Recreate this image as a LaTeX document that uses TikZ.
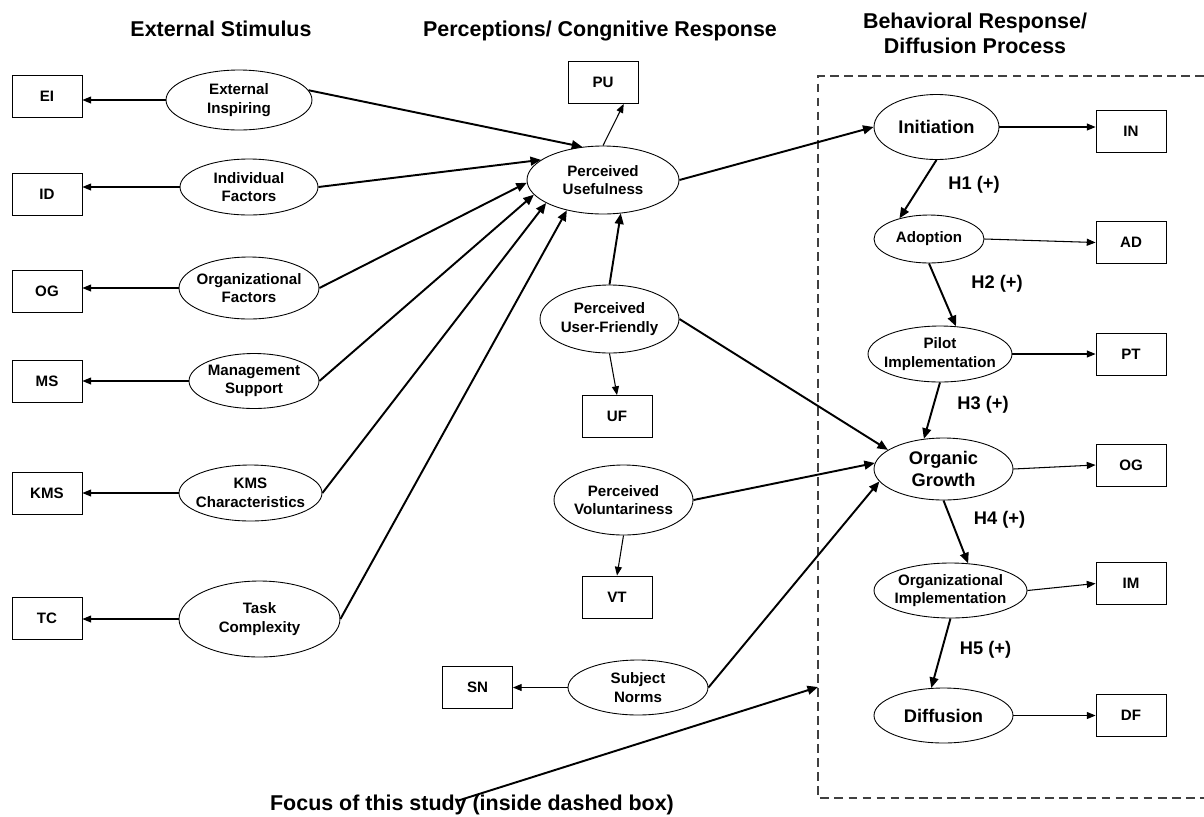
\documentclass[tikz,border=0pt]{standalone}
\usepackage{fontspec}
\setmainfont{Liberation Sans}
\usetikzlibrary{arrows.meta,shapes.geometric}

\newcommand{\dgmsmall}{\bfseries\fontsize{8.6}{10.6}\selectfont}
\newcommand{\dgmbig}{\bfseries\fontsize{10.4}{12.8}\selectfont}
\newcommand{\dgmhead}{\bfseries\fontsize{12.2}{14.4}\selectfont}
\newcommand{\dgmhyp}{\bfseries\fontsize{10.4}{12.6}\selectfont}

\begin{document}
\begin{tikzpicture}[
  x=0.02cm, y=-0.02cm,
  ind/.style={draw, line width=0.5pt, minimum width=1.4cm, minimum height=0.84cm,
              inner sep=0pt, font=\dgmsmall},
  construct/.style={draw, ellipse, line width=0.5pt, inner xsep=-10pt, inner ysep=-3pt,
                    align=center, font=\dgmsmall},
  bigconstruct/.style={construct, font=\dgmbig},
  arr/.style={-{Triangle[length=5pt,width=4pt]}, line width=0.6pt},
  thickarr/.style={-{Triangle[length=6pt,width=5pt]}, line width=1.1pt},
  heading/.style={font=\dgmhead, align=center, inner sep=0pt},
  hyp/.style={font=\dgmhyp, inner sep=0pt}
]
  \useasboundingbox (0,0) rectangle (1204,816);

  % column headings
  \node[heading, anchor=base] (hstim) at (221,36) {External Stimulus};
  \node[heading, anchor=base] (hperc) at (600,36) {Perceptions/ Congnitive Response};
  \node[heading] (hbeh) at (975,33) {Behavioral Response/\\Diffusion Process};

  % external stimulus
  \node[construct, minimum width=2.92cm, minimum height=1.2cm] (eins) at (239,100) {External\\Inspiring};
  \node[construct, minimum width=2.76cm, minimum height=1.12cm] (indf) at (249,187) {Individual\\Factors};
  \node[construct, minimum width=2.8cm, minimum height=1.24cm] (orgf) at (249,288) {Organizational\\Factors};
  \node[construct, minimum width=2.6cm, minimum height=1.1cm] (mgmt) at (254,381) {Management\\Support};
  \node[construct, minimum width=2.86cm, minimum height=1.12cm] (kmsc) at (250.5,493) {KMS\\Characteristics};
  \node[construct, minimum width=3.22cm, minimum height=1.52cm] (task) at (259.5,619) {Task\\Complexity};

  \node[ind] (eibox) at (47,96.5) {EI};
  \node[ind] (idbox) at (47,194) {ID};
  \node[ind] (ogbox) at (47,291) {OG};
  \node[ind] (msbox) at (47,381.5) {MS};
  \node[ind] (kmsbox) at (47,493) {KMS};
  \node[ind] (tcbox) at (47,618) {TC};

  % perceptions
  \node[construct, minimum width=3.04cm, minimum height=1.36cm] (pu) at (603,180) {Perceived\\Usefulness};
  \node[construct, minimum width=2.78cm, minimum height=1.36cm] (pfri) at (609.5,319) {Perceived\\User-Friendly};
  \node[construct, minimum width=2.78cm, minimum height=1.4cm] (pvol) at (623.5,500) {Perceived\\Voluntariness};
  \node[construct, minimum width=2.8cm, minimum height=1.1cm] (subn) at (638,687.5) {Subject\\Norms};

  \node[ind] (pubox) at (603,82.5) {PU};
  \node[ind] (ufbox) at (617,416.5) {UF};
  \node[ind] (vtbox) at (617,597) {VT};
  \node[ind] (snbox) at (477.5,687.5) {SN};

  % diffusion process
  \node[bigconstruct, minimum width=2.5cm, minimum height=1.3cm] (init) at (936.5,127) {Initiation};
  \node[construct, minimum width=2.2cm, minimum height=0.96cm] (adop) at (929,239) {Adoption};
  \node[construct, minimum width=2.88cm, minimum height=1.12cm] (pilot) at (940,354) {Pilot\\Implementation};
  \node[bigconstruct, minimum width=2.78cm, minimum height=1.24cm] (orgg) at (943.5,469) {Organic\\Growth};
  \node[construct, minimum width=3.06cm, minimum height=1.1cm] (oimp) at (950.5,590.5) {Organizational\\Implementation};
  \node[bigconstruct, minimum width=2.78cm, minimum height=1.1cm] (diff) at (943.5,715.5) {Diffusion};

  \node[ind] (inbox) at (1131,131.5) {IN};
  \node[ind] (adbox) at (1131,242.5) {AD};
  \node[ind] (ptbox) at (1131,354) {PT};
  \node[ind] (ogrowbox) at (1131,465) {OG};
  \node[ind] (imbox) at (1131,583.5) {IM};
  \node[ind] (dfbox) at (1131,715.5) {DF};

  % hypotheses
  \node[hyp] (h1) at (974,185) {H1 (+)};
  \node[hyp] (h2) at (997,284) {H2 (+)};
  \node[hyp] (h3) at (983,405) {H3 (+)};
  \node[hyp] (h4) at (999.5,520) {H4 (+)};
  \node[hyp] (h5) at (985.5,650) {H5 (+)};

  % dashed focus box
  \draw[dash pattern=on 5pt off 3pt, line width=0.6pt, black!75]
    (1204,76) -- (818,76) -- (818,798) -- (1204,798);
  \coordinate (focusend) at (818,687);
  \node[heading, anchor=base] (focus) at (472,810.5) {Focus of this study (inside dashed box)};

  % indicators
  \foreach \c/\b in {eins/eibox, indf/idbox, orgf/ogbox, mgmt/msbox, kmsc/kmsbox, task/tcbox}
    \draw[arr] (\c.west) -- (\c.west -| \b.east);
  \draw[arr] (subn.west) -- (snbox.east);
  \draw[arr] (pu.north) -- (pubox.-46);
  \draw[arr] (pfri.south) -- (ufbox.north);
  \draw[arr] (pvol.south) -- (vtbox.north);
  \draw[arr] (init.east) -- (init.east -| inbox.west);
  \draw[arr] (adop.east) -- (adbox.west);
  \draw[arr] (pilot.east) -- (ptbox.west);
  \draw[arr] (orgg.east) -- (ogrowbox.west);
  \draw[arr] (oimp.east) -- (imbox.west);
  \draw[arr] (diff.east) -- (dfbox.west);

  % stimulus -> perceived usefulness
  \draw[thickarr] (eins.8) -- (pu.122);
  \draw[thickarr] (indf.east) -- (pu.162);
  \draw[thickarr] (orgf.east) -- (pu.182);
  \draw[thickarr] (mgmt.east) -- (pu.192);
  \draw[thickarr] (kmsc.east) -- (pu.202);
  \draw[thickarr] (task.east) -- (pu.220);

  % perceptions -> behaviour
  \draw[thickarr] (pfri.north) -- (pu.-62);
  \draw[thickarr] (pu.east) -- (init.west);
  \draw[thickarr] (pfri.east) -- (orgg.161);
  \draw[thickarr] (pvol.east) -- (orgg.175);
  \draw[thickarr] (subn.east) -- (orgg.191);

  % diffusion chain
  \draw[thickarr] (init.south) -- (adop.145);
  \draw[thickarr] (adop.south) -- (pilot.60);
  \draw[thickarr] (pilot.south) -- (orgg.123);
  \draw[thickarr] (orgg.south) -- (oimp.57);
  \draw[thickarr] (oimp.south) -- (diff.114);

  \draw[thickarr] ([xshift=-0.28cm,yshift=-0.12cm]focus.north) -- (focusend);
\end{tikzpicture}
\end{document}
